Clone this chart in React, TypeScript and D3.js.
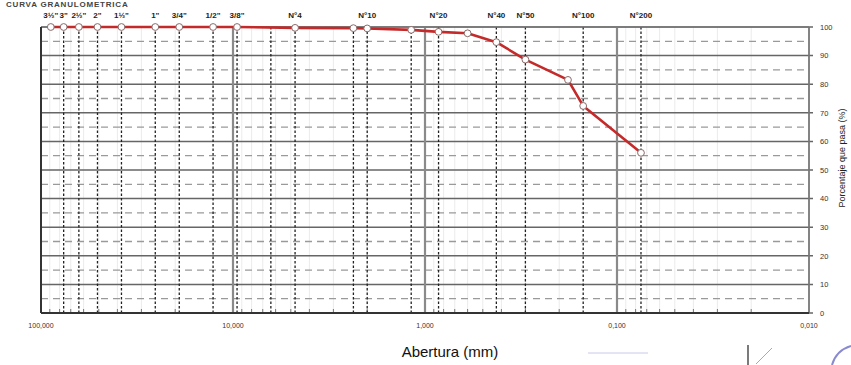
import React from "react";
import * as d3 from "d3";

// Sieve openings (mm) with the measured percentage passing
const sieveSizes = [88.9, 76.2, 63.5, 50.8, 38.1, 25.4, 19.05, 12.7, 9.525, 4.75, 2.36, 2.0, 1.18, 0.85, 0.6, 0.425, 0.3, 0.18, 0.15, 0.075];
const percentPassing = [100, 100, 100, 100, 100, 100, 100, 100, 100, 99.7, 99.6, 99.5, 99.0, 98.3, 97.8, 94.7, 88.6, 81.5, 72.4, 56.0];

// Labelled sieves along the top edge
const sieveLabels = ["3½\"", "3\"", "2½\"", "2\"", "1½\"", "1\"", "3/4\"", "1/2\"", "3/8\"", "N°4", "N°10", "N°20", "N°40", "N°50", "N°100", "N°200"];
const sieveLabelSizes = [88.9, 76.2, 63.5, 50.8, 38.1, 25.4, 19.05, 12.7, 9.525, 4.75, 2.0, 0.85, 0.425, 0.3, 0.15, 0.075];

// Sieves marked with a dashed vertical guide
const guideSizes = [76.2, 63.5, 50.8, 38.1, 25.4, 19.05, 12.7, 9.525, 6.35, 4.75, 2.36, 2.0, 1.18, 0.85, 0.425, 0.3, 0.15, 0.075];

const xTickValues = [100, 10, 1, 0.1, 0.01];
const xTickLabels = ["100,000", "10,000", "1,000", "0,100", "0,010"];
const yTickValues = [0, 10, 20, 30, 40, 50, 60, 70, 80, 90, 100];
const yHalfValues = [5, 15, 25, 35, 45, 55, 65, 75, 85, 95];

const W = 851;
const H = 365;
const left = 41;
const right = 809;
const top = 27;
const bottom = 313;

export default function App() {
  const x = d3.scaleLog().domain([100, 0.01]).range([left, right]);
  const y = d3.scaleLinear().domain([0, 100]).range([bottom, top]);

  const minorValues: number[] = [];
  [10, 1, 0.1, 0.01].forEach((dec) => {
    for (let k = 2; k <= 9; k++) minorValues.push(dec * k);
  });

  const line = d3
    .line<number>()
    .x((_, i) => x(sieveSizes[i]))
    .y((d) => y(d));

  const font = "'Liberation Sans', Arial, sans-serif";

  return (
    <svg
      width={W}
      height={H}
      style={{ position: "absolute", left: 0, top: 0, background: "#fff" }}
      fontFamily={font}
    >
      {/* title */}
      <text x={6} y={7} fontSize={8} fontWeight="bold" fill="#444" letterSpacing={0.8}>
        CURVA GRANULOMETRICA
      </text>

      {/* minor logarithmic grid */}
      {minorValues.map((v, i) => (
        <g key={"mn" + i}>
          <line x1={x(v)} x2={x(v)} y1={top} y2={bottom} stroke="#e6e6e6" strokeWidth={0.8} />
          <line x1={x(v)} x2={x(v)} y1={bottom} y2={bottom - 4} stroke="#777" strokeWidth={1} />
        </g>
      ))}

      {/* horizontal half-step dashed lines */}
      {yHalfValues.map((v) => (
        <line key={"h" + v} x1={left} x2={right} y1={y(v)} y2={y(v)} stroke="#9a9a9a" strokeWidth={1.3} strokeDasharray="7,5" />
      ))}

      {/* horizontal solid lines */}
      {yTickValues.map((v) => (
        <line key={"s" + v} x1={left} x2={right + 4} y1={y(v)} y2={y(v)} stroke="#666" strokeWidth={1.5} />
      ))}

      {/* major decade lines */}
      {[10, 1, 0.1].map((v) => (
        <line key={"mj" + v} x1={x(v)} x2={x(v)} y1={top} y2={bottom} stroke="#8a8a8a" strokeWidth={2.2} />
      ))}

      {/* dashed sieve guides */}
      {guideSizes.map((v, i) => (
        <line key={"g" + i} x1={x(v)} x2={x(v)} y1={top} y2={bottom} stroke="#222" strokeWidth={1.3} strokeDasharray="2.5,2" />
      ))}

      {/* frame */}
      <line x1={left} x2={right} y1={top} y2={top} stroke="#777" strokeWidth={1.5} />
      <line x1={right} x2={right} y1={top} y2={bottom} stroke="#777" strokeWidth={1.8} />
      <line x1={left} x2={left} y1={top} y2={bottom} stroke="#333" strokeWidth={2} />
      <line x1={left} x2={right} y1={bottom} y2={bottom} stroke="#333" strokeWidth={2} />

      {/* gradation curve */}
      <path d={line(percentPassing) || ""} fill="none" stroke="#c42a2a" strokeWidth={2.6} strokeLinejoin="round" />
      {percentPassing.map((p, i) => (
        <circle key={"p" + i} cx={x(sieveSizes[i])} cy={y(p)} r={3.4} fill="#fff" stroke="#8a6a6a" strokeWidth={1} />
      ))}

      {/* sieve labels */}
      {sieveLabels.map((t, i) => (
        <text
          key={"sl" + i}
          x={x(sieveLabelSizes[i])}
          y={17.5}
          fontSize={8}
          fontWeight="bold"
          textAnchor="middle"
          fill="#222"
        >
          {t}
        </text>
      ))}

      {/* x tick labels */}
      {xTickValues.map((v, i) => (
        <text key={"xt" + v} x={x(v)} y={328} fontSize={7} textAnchor="middle" fill="#333">
          {xTickLabels[i]}
        </text>
      ))}

      {/* y tick labels */}
      {yTickValues.map((v) => (
        <text key={"yt" + v} x={820} y={y(v) + 2.7} fontSize={7.5} fill="#333">
          {v}
        </text>
      ))}

      {/* axis titles */}
      <text
        x={0}
        y={0}
        transform={`translate(845, 158) rotate(-90)`}
        fontSize={9}
        textAnchor="middle"
        fill="#222"
      >
        Porcentaje que pasa (%)
      </text>
      <text x={450} y={357} fontSize={15} textAnchor="middle" fill="#111">
        Abertura (mm)
      </text>

      {/* signature marks below the chart */}
      <line x1={748} x2={748} y1={345} y2={365} stroke="#222" strokeWidth={1.2} />
      <line x1={756} x2={772} y1={364} y2={348} stroke="#aaa" strokeWidth={1} />
      <path d="M 832 365 A 28 28 0 0 1 851 346" fill="none" stroke="#8a8ad0" strokeWidth={2} />
      <line x1={588} x2={648} y1={353} y2={353} stroke="#c8c8ea" strokeWidth={1} />
    </svg>
  );
}
